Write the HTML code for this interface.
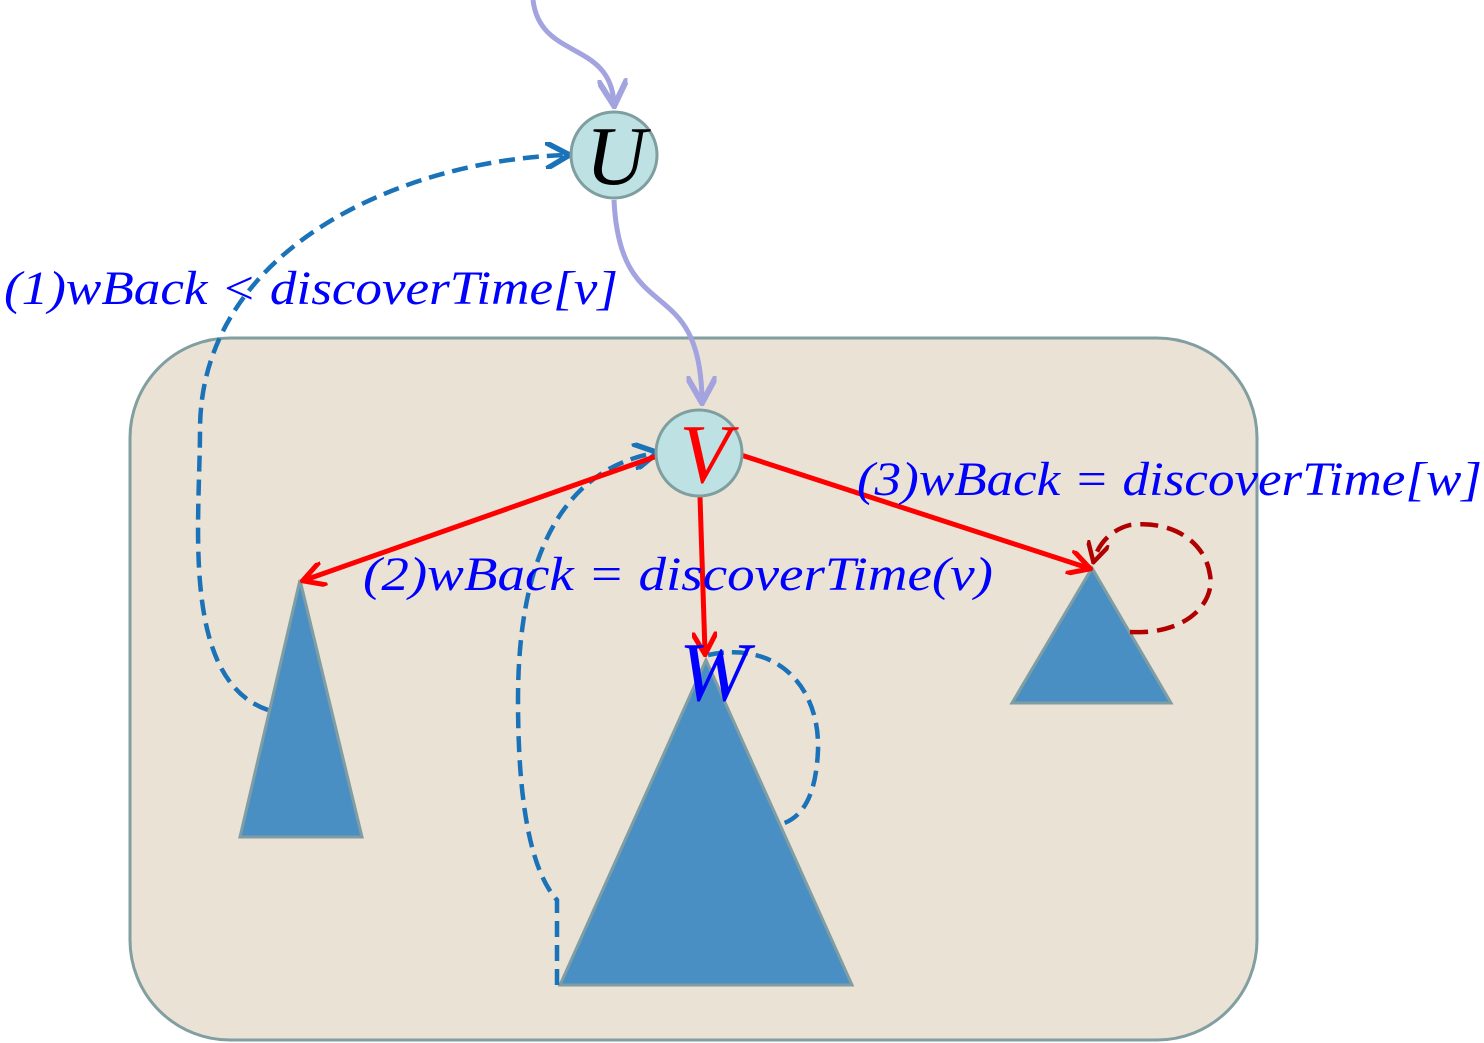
<!DOCTYPE html>
<html><head><meta charset="utf-8">
<style>
html,body{margin:0;padding:0;background:#fff;}
svg{display:block;}
text{font-family:"Liberation Serif",serif;font-style:italic;}
</style></head>
<body>
<svg width="1484" height="1043" viewBox="0 0 1484 1043" xmlns="http://www.w3.org/2000/svg">
<defs>
<marker id="ap" viewBox="0 0 10 10" refX="8" refY="5" markerWidth="6" markerHeight="6" orient="auto"><path d="M0,0 L9,5 L0,10" fill="none" stroke="#a3a3df" stroke-width="2"/></marker>
<marker id="ab" viewBox="0 0 10 10" refX="8" refY="5" markerWidth="6" markerHeight="6" orient="auto"><path d="M0,0 L9,5 L0,10" fill="none" stroke="#1a72b8" stroke-width="2"/></marker>
<marker id="ar" viewBox="0 0 10 10" refX="8" refY="5" markerWidth="5" markerHeight="5" orient="auto"><path d="M0,0 L9,5 L0,10" fill="none" stroke="#ff0000" stroke-width="2"/></marker>
<marker id="ad" viewBox="0 0 10 10" refX="8" refY="5" markerWidth="5" markerHeight="5" orient="auto"><path d="M0,0 L9,5 L0,10" fill="none" stroke="#b00000" stroke-width="2"/></marker>
</defs>
<rect x="130" y="338" width="1127" height="702" rx="100" fill="#ebe2d6" stroke="#819ea0" stroke-width="3"/>
<path d="M533,0 C540,60 610,40 614,103" fill="none" stroke="#a3a3df" stroke-width="5" marker-end="url(#ap)"/>
<path d="M614,200 C620,330 700,270 702,400" fill="none" stroke="#a3a3df" stroke-width="5" marker-end="url(#ap)"/>
<polygon points="300,580 240,837 362,837" fill="#4a8fc4" stroke="#7f9ea3" stroke-width="3"/>
<polygon points="706,660 560,985 852,985" fill="#4a8fc4" stroke="#7f9ea3" stroke-width="3"/>
<polygon points="1092,568 1012,703 1171,703" fill="#4a8fc4" stroke="#7f9ea3" stroke-width="3"/>
<path d="M268,710 C180,680 200,520 200,430 C200,250 400,160 567,155" fill="none" stroke="#1a72b8" stroke-width="4.5" stroke-dasharray="16,8" marker-end="url(#ab)"/>
<path d="M557,985 L557,900 C530,870 518,800 518,700 C518,560 560,470 655,453" fill="none" stroke="#1a72b8" stroke-width="4.5" stroke-dasharray="16,8" marker-end="url(#ab)"/>
<path d="M708,655 C780,640 820,690 818,750 C816,800 800,820 778,825" fill="none" stroke="#1a72b8" stroke-width="4.5" stroke-dasharray="16,8"/>
<path d="M1130,632 C1190,635 1215,600 1210,575 C1205,540 1170,520 1130,525 C1110,530 1098,545 1094,560" fill="none" stroke="#b00000" stroke-width="4.5" stroke-dasharray="18,9" marker-end="url(#ad)"/>
<line x1="660" y1="455" x2="305" y2="580" stroke="#ff0000" stroke-width="5" marker-end="url(#ar)"/>
<line x1="700" y1="497" x2="705" y2="652" stroke="#ff0000" stroke-width="5" marker-end="url(#ar)"/>
<line x1="741" y1="455" x2="1088" y2="568" stroke="#ff0000" stroke-width="5" marker-end="url(#ar)"/>
<circle cx="614" cy="155" r="43" fill="#bee1e4" stroke="#7f9ea0" stroke-width="3"/>
<text x="616" y="184" font-size="84" text-anchor="middle" fill="#000">U</text>
<circle cx="699" cy="453" r="43" fill="#bee1e4" stroke="#7f9ea0" stroke-width="3"/>
<text x="705" y="482" font-size="84" text-anchor="middle" fill="#ff0000">V</text>
<text x="714" y="700" font-size="84" text-anchor="middle" fill="#0000ff">W</text>
<text x="4" y="304" font-size="48" fill="#0000ff" textLength="614" lengthAdjust="spacingAndGlyphs">(1)wBack &lt; discoverTime[v]</text>
<text x="363" y="590" font-size="48" fill="#0000ff" textLength="630" lengthAdjust="spacingAndGlyphs">(2)wBack = discoverTime(v)</text>
<text x="857" y="495" font-size="48" fill="#0000ff" textLength="625" lengthAdjust="spacingAndGlyphs">(3)wBack = discoverTime[w]</text>
</svg>
</body></html>
